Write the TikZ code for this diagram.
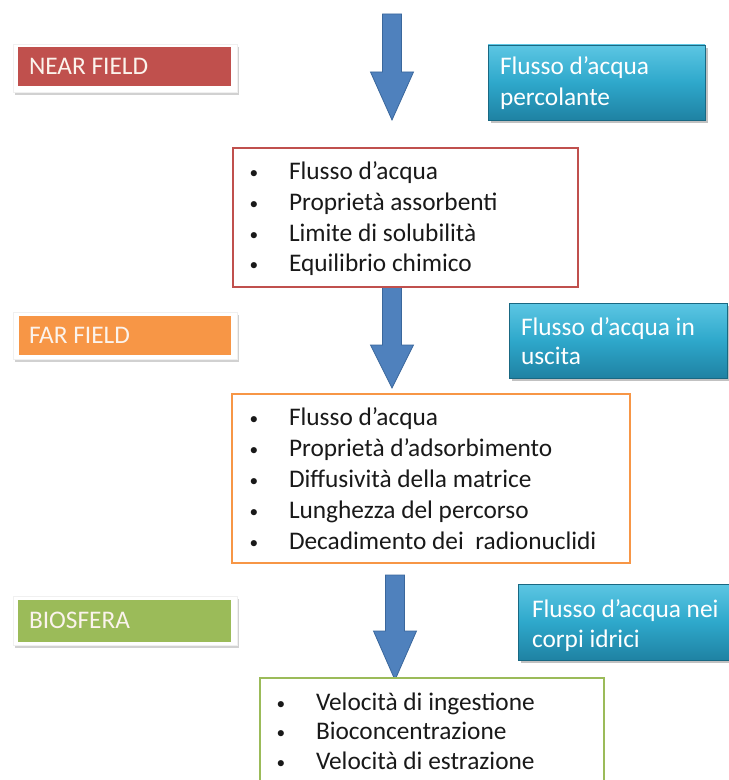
\documentclass[tikz,border=0pt]{standalone}
\usepackage{fontspec}
\setmainfont{Carlito}
\usetikzlibrary{shadows}
\definecolor{nearred}{HTML}{C0504D}
\definecolor{farorange}{HTML}{F79646}
\definecolor{biogreen}{HTML}{9BBB59}
\definecolor{arrowblue}{HTML}{4F81BD}
\definecolor{arrowedge}{HTML}{3A679C}
\definecolor{tealtop}{HTML}{5CC6E3}
\definecolor{tealmid}{HTML}{2EA8CB}
\definecolor{tealbot}{HTML}{1F82A3}
\definecolor{labeltext}{HTML}{FBF3EC}
\newcommand\myblockarrow[4]{%
  \filldraw[blockarr] (#1-9.5,#2) -- (#1+9.5,#2) -- (#1+9.5,#3) -- (#1+21.5,#3)
    -- (#1,#4) -- (#1-21.5,#3) -- (#1-9.5,#3) -- cycle;}
\begin{document}
\begin{tikzpicture}[x=0.75pt,y=-0.75pt,
  every node/.style={inner sep=0pt,outer sep=0pt},
  txt/.style={anchor=base west,font=\fontsize{19}{22}\selectfont,text=black!90},
  bul/.style={anchor=base,font=\fontsize{13}{15}\selectfont,text=black!90},
  labtxt/.style={anchor=base west,font=\fontsize{19}{22}\selectfont,text=labeltext},
  tealtxt/.style={anchor=base west,font=\fontsize{19}{22}\selectfont,text=white},
  labframe/.style={fill=white,draw=black!6,line width=0.4pt,
     drop shadow={shadow xshift=1.5pt,shadow yshift=-2pt,opacity=0.3,fill=black!60}},
  tealbox/.style={draw=tealbot!80!black,line width=0.5pt,top color=tealtop,bottom color=tealbot,middle color=tealmid,
     drop shadow={shadow xshift=2pt,shadow yshift=-2.5pt,opacity=0.35,fill=black!70}},
  listbox/.style={draw=#1,line width=2.2pt,fill=white},
  blockarr/.style={fill=arrowblue,draw=arrowedge,line width=0.6pt}
]
\useasboundingbox (0,0) rectangle (728,780);

% ---- label boxes ----
\filldraw[labframe] (13,44) rectangle (237,92);
\fill[nearred] (18,47) rectangle (231,86);
\node[labtxt] (lnear) at (29,75) {NEAR FIELD};

\filldraw[labframe] (13,312) rectangle (237,359);
\fill[farorange] (19,316) rectangle (231,355);
\node[labtxt] (lfar) at (29,343) {FAR FIELD};

\filldraw[labframe] (13,596) rectangle (237,645);
\fill[biogreen] (18,600) rectangle (231,642);
\node[labtxt] (lbio) at (29,628) {BIOSFERA};

% ---- teal boxes ----
\filldraw[tealbox] (488,45) rectangle (705,120);
\node[tealtxt] (t1a) at (500,75) {Flusso d’acqua};
\node[tealtxt] (t1b) at (500,106) {percolante};

\filldraw[tealbox] (509,303) rectangle (727,378);
\node[tealtxt] (t2a) at (521,335) {Flusso d’acqua in};
\node[tealtxt] (t2b) at (521,364) {uscita};

\filldraw[tealbox] (518,584) rectangle (740,660);
\node[tealtxt] (t3a) at (532,617) {Flusso d’acqua nei};
\node[tealtxt] (t3b) at (532,647) {corpi idrici};

% ---- arrows ----
\myblockarrow{392}{14}{72}{120}
\myblockarrow{392}{287}{345}{388}
\myblockarrow{395}{575}{631}{680}

% ---- list box 1 ----
\filldraw[listbox=nearred] (233,148) rectangle (578,287);
\foreach \yy/\tt [count=\i] in {180/Flusso d’acqua,211/Proprietà assorbenti,242/Limite di solubilità,272/Equilibrio chimico}{
  \node[bul] (a\i b) at (254,\yy-1) {\textbullet};
  \node[txt] (a\i) at (289,\yy) {\tt};
}

% ---- list box 2 ----
\filldraw[listbox=farorange] (232,394) rectangle (630,563);
\foreach \yy/\tt [count=\i] in {425/Flusso d’acqua,456/Proprietà d’adsorbimento,487/Diffusività della matrice,518/Lunghezza del percorso,549/Decadimento dei\ \ radionuclidi}{
  \node[bul] (c\i b) at (254,\yy-1) {\textbullet};
  \node[txt] (c\i) at (289,\yy) {\tt};
}

% ---- list box 3 ----
\filldraw[listbox=biogreen] (260,678) rectangle (604,800);
\foreach \yy/\tt [count=\i] in {710/Velocità di ingestione,739/Bioconcentrazione,769/Velocità di estrazione}{
  \node[bul] (d\i b) at (281,\yy-1) {\textbullet};
  \node[txt] (d\i) at (316,\yy) {\tt};
}
\end{tikzpicture}
\end{document}
